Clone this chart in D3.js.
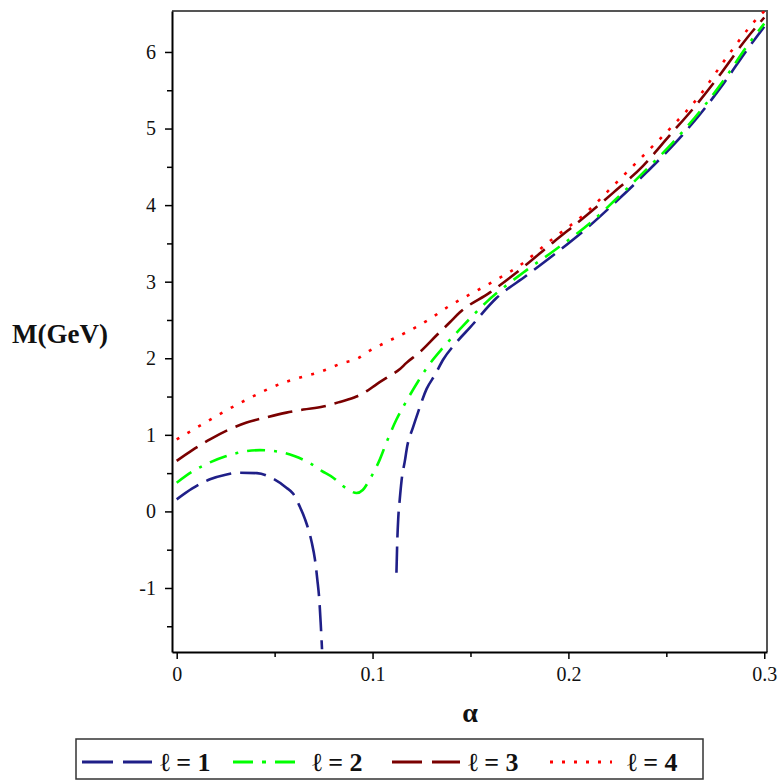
<!DOCTYPE html>
<html>
<head>
<meta charset="utf-8">
<script src="https://cdn.jsdelivr.net/npm/d3@7"></script>
<style>
  body { margin: 0; background: #fff; }
  svg { display: block; }
  svg text { font-family: "Liberation Serif", "Times New Roman", serif !important; }
</style>
</head>
<body>
<svg id="chart" width="780" height="780"></svg>
<script>
'use strict';

// series values (null = break in the curve)
const alpha1 = [0, 0.008, 0.017, 0.025, 0.032, 0.041, 0.049, 0.056, 0.0595, 0.0629, 0.0655, 0.0689, 0.0706, 0.0718, 0.0728, 0.0735, 0.0742,
  null,
  0.1122, 0.1126, 0.1131, 0.1139, 0.1148, 0.1165, 0.1177, 0.1207, 0.1233, 0.1276, 0.1318, 0.136, 0.1429, 0.1497, 0.163, 0.1786, 0.194,
  0.209, 0.2245, 0.24, 0.2534, 0.267, 0.279, 0.291, 0.3];
const mass1 = [0.157, 0.30, 0.42, 0.48, 0.505, 0.50, 0.43, 0.31, 0.23, 0.06, -0.10, -0.40, -0.63, -0.89, -1.15, -1.45, -1.80,
  null,
  -0.80, -0.41, -0.10, 0.16, 0.40, 0.66, 0.85, 1.10, 1.30, 1.60, 1.78, 1.98, 2.21, 2.40, 2.78, 3.08, 3.38,
  3.69, 4.05, 4.43, 4.78, 5.18, 5.58, 6.02, 6.33];

const alpha2 = [0, 0.008, 0.017, 0.025, 0.032, 0.0425, 0.054, 0.0604, 0.068, 0.074, 0.0799, 0.085, 0.0885, 0.0918, 0.095, 0.0986,
  0.1034, 0.1071, 0.1122, 0.1173, 0.1233, 0.1284, 0.136, 0.1446, 0.158, 0.177, 0.194, 0.2126, 0.226, 0.24, 0.2534, 0.267, 0.279, 0.291, 0.3];
const mass2 = [0.375, 0.52, 0.64, 0.72, 0.77, 0.80, 0.77, 0.72, 0.63, 0.53, 0.44, 0.33, 0.27, 0.24, 0.28, 0.42,
  0.66, 0.90, 1.20, 1.44, 1.70, 1.90, 2.14, 2.38, 2.73, 3.12, 3.43, 3.80, 4.12, 4.47, 4.82, 5.22, 5.62, 6.07, 6.37];

const alpha3 = [0, 0.008, 0.017, 0.026, 0.0357, 0.046, 0.056, 0.0646, 0.0748, 0.0833, 0.0918, 0.097, 0.102, 0.1088, 0.114, 0.1173,
  0.1241, 0.1327, 0.1395, 0.1446, 0.16, 0.1755, 0.192, 0.209, 0.2228, 0.238, 0.2517, 0.265, 0.277, 0.2908, 0.3];
const mass3 = [0.66, 0.80, 0.94, 1.06, 1.16, 1.23, 1.29, 1.33, 1.37, 1.43, 1.50, 1.57, 1.66, 1.77, 1.86, 1.94,
  2.08, 2.30, 2.47, 2.60, 2.86, 3.16, 3.51, 3.86, 4.16, 4.51, 4.91, 5.30, 5.69, 6.17, 6.45];

const alpha4 = [0, 0.0119, 0.024, 0.0357, 0.0544, 0.0604, 0.074, 0.085, 0.0918, 0.0986, 0.1046, 0.1165, 0.1224, 0.129, 0.139,
  0.158, 0.175, 0.192, 0.209, 0.2228, 0.238, 0.2534, 0.267, 0.2797, 0.2976, 0.3];
const mass4 = [0.94, 1.12, 1.30, 1.46, 1.68, 1.73, 1.83, 1.94, 1.99, 2.10, 2.18, 2.33, 2.41, 2.51, 2.68,
  2.95, 3.21, 3.56, 3.90, 4.25, 4.64, 5.04, 5.43, 5.89, 6.47, 6.53];

const seriesLabels = ["ℓ = 1", "ℓ = 2", "ℓ = 3", "ℓ = 4"];
const xTicks = [0, 0.1, 0.2, 0.3];
const xMinorTicks = [0.05, 0.15, 0.25];
const yTicks = [-1, 0, 1, 2, 3, 4, 5, 6];
const yMinorTicks = [-1.5, -0.5, 0.5, 1.5, 2.5, 3.5, 4.5, 5.5];

const styles = [
  { color: "#1f1f88", dash: "26,9" },
  { color: "#00ff00", dash: "18,9,3,9" },
  { color: "#7a0000", dash: "25,9" },
  { color: "#ff0000", dash: "3,9.5" }
];

const svg = d3.select("#chart");
const plot = { left: 172, top: 11, right: 767, bottom: 652 };

const x = d3.scaleLinear().domain([-0.0024, 0.3014]).range([plot.left, plot.right]);
const y = d3.scaleLinear().domain([-1.836, 6.535]).range([plot.bottom, plot.top]);

svg.append("rect").attr("width", 780).attr("height", 780).attr("fill", "#fff");

svg.append("clipPath").attr("id", "clip")
  .append("rect")
  .attr("x", plot.left).attr("y", plot.top)
  .attr("width", plot.right - plot.left).attr("height", plot.bottom - plot.top);

// frame (top and right sides)
svg.append("path")
  .attr("d", `M${plot.left},${plot.top}H${plot.right}V${plot.bottom}`)
  .attr("fill", "none")
  .attr("stroke", "#555")
  .attr("stroke-width", 2);

const series = [
  { alpha: alpha1, mass: mass1 },
  { alpha: alpha2, mass: mass2 },
  { alpha: alpha3, mass: mass3 },
  { alpha: alpha4, mass: mass4 }
];

const line = d3.line()
  .defined(d => d[0] !== null && d[1] !== null)
  .x(d => x(d[0]))
  .y(d => y(d[1]))
  .curve(d3.curveMonotoneX);

const curves = svg.append("g").attr("clip-path", "url(#clip)");
series.forEach((s, i) => {
  curves.append("path")
    .datum(d3.zip(s.alpha, s.mass))
    .attr("fill", "none")
    .attr("stroke", styles[i].color)
    .attr("stroke-width", 2.6)
    .attr("stroke-dasharray", styles[i].dash)
    .attr("d", line);
});

// axes
svg.append("g")
  .attr("transform", `translate(0,${plot.bottom})`)
  .call(d3.axisBottom(x).tickValues(xTicks).tickSize(7).tickSizeOuter(0).tickPadding(8)
    .tickFormat(d => d === 0 ? "0" : d3.format(".1f")(d)));
svg.append("g")
  .attr("transform", `translate(0,${plot.bottom})`)
  .call(d3.axisBottom(x).tickValues(xMinorTicks).tickSize(5).tickSizeOuter(0).tickFormat(""))
  .call(g => g.select(".domain").remove());

svg.append("g")
  .attr("transform", `translate(${plot.left},0)`)
  .call(d3.axisLeft(y).tickValues(yTicks).tickSize(7).tickSizeOuter(0).tickPadding(9)
    .tickFormat(d => String(d)));
svg.append("g")
  .attr("transform", `translate(${plot.left},0)`)
  .call(d3.axisLeft(y).tickValues(yMinorTicks).tickSize(5).tickSizeOuter(0).tickFormat(""))
  .call(g => g.select(".domain").remove());

svg.selectAll(".domain").attr("stroke", "#000").attr("stroke-width", 2);
svg.selectAll(".tick line").attr("stroke", "#000").attr("stroke-width", 1.5);
svg.selectAll(".tick text")
  .attr("font-size", 20)
  .attr("fill", "#111");

// axis titles
svg.append("text")
  .attr("x", 12).attr("y", 343)
  .attr("font-weight", "bold").attr("font-size", 27)
  .attr("fill", "#111")
  .text("M(GeV)");

svg.append("text")
  .attr("x", 470).attr("y", 722)
  .attr("text-anchor", "middle")
  .attr("font-weight", "bold").attr("font-size", 28)
  .attr("fill", "#111")
  .text("α");

// legend
const legendBox = { left: 76, top: 739, right: 703, bottom: 779 };
const legendY = 762;
svg.append("rect")
  .attr("x", legendBox.left).attr("y", legendBox.top)
  .attr("width", legendBox.right - legendBox.left).attr("height", legendBox.bottom - legendBox.top)
  .attr("fill", "#fff").attr("stroke", "#333").attr("stroke-width", 1.5);

const legendItems = [
  { x1: 82, x2: 152, tx: 160, dash: "31,10" },
  { x1: 233, x2: 297, tx: 312, dash: "20,9,4,9" },
  { x1: 392, x2: 460, tx: 468, dash: "30,10" },
  { x1: 550, x2: 612, tx: 627, dash: "3,9" }
];

legendItems.forEach((d, i) => {
  svg.append("line")
    .attr("x1", d.x1).attr("x2", d.x2)
    .attr("y1", legendY).attr("y2", legendY)
    .attr("stroke", styles[i].color)
    .attr("stroke-width", 3.2)
    .attr("stroke-dasharray", d.dash);
  svg.append("text")
    .attr("x", d.tx).attr("y", legendY + 9)
    .attr("font-weight", "bold").attr("font-size", 26)
    .attr("fill", "#111")
    .attr("xml:space", "preserve")
    .text(seriesLabels[i]);
});
</script>
</body>
</html>
